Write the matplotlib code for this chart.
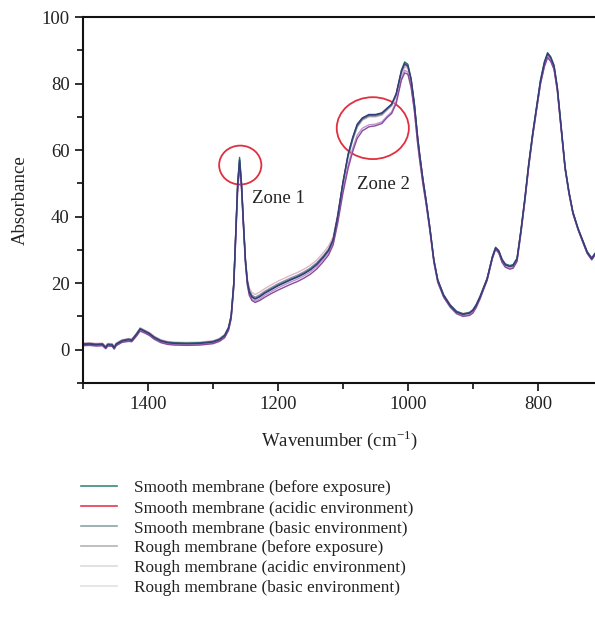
import matplotlib
matplotlib.use("Agg")
import matplotlib.pyplot as plt
from matplotlib.patches import Ellipse
from matplotlib.lines import Line2D
from matplotlib.ticker import MultipleLocator

plt.rcParams['font.family'] = ['Liberation Serif', 'DejaVu Serif']
plt.rcParams['mathtext.fontset'] = 'custom'
plt.rcParams['mathtext.rm'] = 'Liberation Serif'

wavenumber = [
    1500, 1490, 1480, 1470, 1465, 1462, 1455, 1452, 1449, 1440,
    1430, 1425, 1418, 1412, 1405, 1398, 1390, 1380, 1370, 1360,
    1340, 1320, 1300, 1290, 1282, 1276, 1272, 1268, 1265, 1262,
    1259, 1256, 1253, 1250, 1247, 1244, 1240, 1235, 1228, 1220,
    1210, 1200, 1190, 1180, 1170, 1160, 1150, 1140, 1130, 1122,
    1115, 1108, 1100, 1092, 1085, 1078, 1070, 1060, 1050, 1040,
    1032, 1025, 1018, 1010, 1005, 1000, 995, 990, 985, 982,
    977, 972, 966, 960, 954, 945, 935, 925, 915, 905,
    900, 895, 889, 884, 878, 870, 865, 860, 855, 850,
    843, 838, 832, 826, 820, 814, 808, 802, 796, 790,
    785, 780, 775, 770, 764, 758, 752, 746, 738, 731,
    724, 717, 712]

smooth_before = [
    1.8, 1.9, 1.7, 1.8, 0.8, 1.7, 1.6, 0.7, 1.8, 2.8,
    3.2, 3.0, 4.7, 6.4, 5.7, 5.0, 3.8, 2.8, 2.3, 2.1,
    2.0, 2.1, 2.5, 3.2, 4.4, 6.7, 10.2, 20.0, 35.0, 50.0,
    57.8, 50.0, 38.0, 27.0, 20.5, 17.5, 16.0, 15.4, 16.1, 17.2,
    18.3, 19.4, 20.3, 21.2, 22.0, 23.0, 24.2, 25.8, 28.0, 30.0,
    33.0, 40.0, 50.0, 58.5, 63.5, 67.5, 69.5, 70.5, 70.5, 71.0,
    72.5, 73.8, 77.0, 84.0, 86.5, 85.8, 81.5, 74.0, 64.0, 59.0,
    51.5, 45.0, 36.5, 27.0, 21.0, 16.5, 13.5, 11.5, 10.8, 11.2,
    12.0, 13.5, 16.0, 18.5, 21.5, 28.0, 30.8, 29.8, 27.2, 25.8,
    25.3, 25.6, 27.5, 36.0, 45.5, 56.0, 65.0, 73.0, 81.0, 86.5,
    89.3, 88.0, 85.5, 79.0, 67.0, 55.0, 47.5, 41.5, 36.5, 33.0,
    29.5, 27.6, 29.0]

smooth_acidic = [
    1.2, 1.3, 1.1, 1.2, 0.3, 1.1, 1.0, 0.2, 1.2, 2.2,
    2.5, 2.4, 4.0, 5.6, 5.0, 4.3, 3.1, 2.1, 1.6, 1.4,
    1.3, 1.4, 1.8, 2.5, 3.6, 5.8, 9.2, 18.5, 33.0, 47.5,
    55.5, 48.0, 36.5, 25.8, 19.3, 16.3, 14.8, 14.2, 14.8, 15.8,
    16.9, 17.9, 18.8, 19.7, 20.5, 21.5, 22.7, 24.3, 26.5, 28.5,
    31.5, 38.0, 47.0, 54.5, 59.5, 63.5, 65.8, 67.0, 67.3, 68.0,
    69.8, 71.0, 74.0, 81.0, 83.2, 82.8, 78.8, 71.8, 62.0, 57.2,
    50.0, 43.8, 35.5, 26.2, 20.2, 15.8, 12.8, 10.8, 10.0, 10.3,
    11.0, 12.6, 15.2, 17.8, 20.8, 27.3, 30.2, 29.0, 26.2, 24.8,
    24.2, 24.5, 26.5, 35.0, 44.5, 55.0, 64.0, 72.0, 79.8, 85.0,
    87.8, 86.6, 84.2, 77.8, 66.0, 54.2, 46.8, 40.9, 36.0, 32.4,
    28.9, 27.0, 28.4]

smooth_basic = [
    1.6, 1.7, 1.5, 1.6, 0.6, 1.5, 1.4, 0.5, 1.6, 2.6,
    3.0, 2.8, 4.5, 6.2, 5.5, 4.8, 3.6, 2.6, 2.1, 1.9,
    1.8, 1.9, 2.3, 3.0, 4.2, 6.5, 10.0, 19.8, 34.5, 49.5,
    57.0, 49.5, 37.6, 26.8, 20.3, 17.3, 15.8, 15.2, 15.9, 17.0,
    18.1, 19.2, 20.1, 21.0, 21.8, 22.8, 24.0, 25.6, 27.8, 29.8,
    33.0, 40.2, 50.3, 58.8, 63.8, 67.8, 69.7, 70.7, 70.7, 71.2,
    72.6, 73.8, 76.8, 83.7, 86.0, 85.3, 81.2, 73.8, 63.9, 58.9,
    51.4, 44.9, 36.4, 26.9, 20.9, 16.3, 13.3, 11.3, 10.6, 11.0,
    11.8, 13.3, 15.8, 18.3, 21.3, 27.8, 30.6, 29.6, 27.0, 25.5,
    25.0, 25.3, 27.3, 35.8, 45.3, 55.8, 64.8, 72.8, 80.7, 86.2,
    89.0, 87.7, 85.2, 78.8, 66.8, 54.8, 47.3, 41.3, 36.3, 32.8,
    29.3, 27.4, 28.8]

rough_before = [
    1.5, 1.6, 1.4, 1.5, 0.6, 1.4, 1.3, 0.5, 1.5, 2.5,
    2.9, 2.7, 4.4, 6.1, 5.4, 4.7, 3.5, 2.5, 2.0, 1.8,
    1.7, 1.8, 2.2, 2.9, 4.1, 6.4, 9.9, 19.5, 34.5, 49.5,
    57.2, 49.6, 37.8, 27.0, 20.8, 17.9, 16.4, 15.8, 16.5, 17.6,
    18.7, 19.8, 20.7, 21.6, 22.4, 23.4, 24.6, 26.2, 28.3, 30.3,
    33.2, 40.0, 49.8, 58.0, 63.0, 67.0, 69.2, 70.2, 70.2, 70.7,
    72.2, 73.5, 76.6, 83.3, 85.6, 85.0, 80.8, 73.5, 63.6, 58.7,
    51.3, 44.8, 36.3, 26.9, 20.9, 16.4, 13.4, 11.4, 10.7, 11.0,
    11.8, 13.3, 15.8, 18.3, 21.3, 27.7, 30.4, 29.4, 26.9, 25.4,
    24.9, 25.2, 27.1, 35.6, 45.0, 55.4, 64.4, 72.4, 80.3, 85.7,
    88.5, 87.2, 84.8, 78.4, 66.4, 54.5, 47.1, 41.1, 36.2, 32.7,
    29.2, 27.3, 28.7]

rough_acidic = [
    2.0, 2.1, 1.9, 2.0, 1.1, 1.9, 1.8, 1.0, 2.0, 3.0,
    3.4, 3.2, 4.9, 6.6, 5.9, 5.2, 4.0, 3.0, 2.5, 2.3,
    2.2, 2.3, 2.7, 3.4, 4.6, 6.9, 10.4, 20.0, 34.5, 49.0,
    56.5, 49.5, 38.0, 27.5, 21.3, 18.5, 17.2, 16.6, 17.3, 18.4,
    19.5, 20.6, 21.5, 22.4, 23.2, 24.2, 25.4, 27.0, 29.2, 31.2,
    34.0, 40.8, 50.2, 58.3, 63.2, 67.0, 69.0, 70.0, 70.0, 70.5,
    72.0, 73.2, 76.2, 82.7, 85.0, 84.5, 80.4, 73.2, 63.4, 58.5,
    51.2, 44.8, 36.4, 27.0, 21.0, 16.6, 13.6, 11.6, 10.9, 11.3,
    12.0, 13.5, 16.0, 18.5, 21.4, 27.8, 30.5, 29.5, 27.0, 25.6,
    25.1, 25.4, 27.3, 35.6, 44.9, 55.2, 64.2, 72.2, 80.0, 85.3,
    88.1, 86.8, 84.5, 78.2, 66.3, 54.4, 47.0, 41.1, 36.2, 32.7,
    29.2, 27.3, 28.7]

rough_basic = [
    1.3, 1.4, 1.2, 1.3, 0.4, 1.2, 1.1, 0.3, 1.3, 2.3,
    2.7, 2.5, 4.2, 5.9, 5.2, 4.5, 3.3, 2.3, 1.8, 1.6,
    1.5, 1.6, 2.0, 2.7, 3.8, 6.0, 9.5, 19.0, 33.5, 48.5,
    56.0, 48.5, 37.0, 26.2, 19.7, 16.7, 15.2, 14.6, 15.3, 16.4,
    17.5, 18.6, 19.5, 20.4, 21.2, 22.2, 23.4, 25.0, 27.2, 29.2,
    32.2, 38.8, 48.0, 55.5, 60.5, 64.5, 66.6, 67.6, 67.8, 68.5,
    70.2, 71.5, 74.6, 81.5, 84.0, 83.4, 79.4, 72.2, 62.4, 57.6,
    50.4, 44.1, 35.8, 26.5, 20.5, 16.0, 13.0, 11.0, 10.2, 10.6,
    11.3, 12.9, 15.4, 18.0, 21.0, 27.5, 30.4, 29.3, 26.5, 25.0,
    24.4, 24.8, 26.8, 35.2, 44.7, 55.2, 64.2, 72.2, 80.0, 85.4,
    88.3, 87.0, 84.5, 78.0, 66.2, 54.4, 46.9, 41.0, 36.1, 32.5,
    29.0, 27.1, 28.5]

labels = [
    "Smooth membrane (before exposure)",
    "Smooth membrane (acidic environment)",
    "Smooth membrane (basic environment)",
    "Rough membrane (before exposure)",
    "Rough membrane (acidic environment)",
    "Rough membrane (basic environment)",
]
series = [smooth_before, smooth_acidic, smooth_basic,
          rough_before, rough_acidic, rough_basic]
line_colors = ["#2b6f6b", "#8b4a9c", "#363b7a", "#8a90a2", "#e2b4cc", "#bb95d0"]
legend_colors = ["#3a8a80", "#e8384f", "#8aa6a8", "#b4b4b4", "#dcdcdc", "#e2e2e2"]
draw_order = [4, 3, 5, 0, 1, 2]

fig = plt.figure(figsize=(5.95, 6.4), dpi=100)
ax = fig.add_axes([0.1395, 0.4016, 0.8605, 0.5718])

for i in draw_order:
    ax.plot(wavenumber, series[i], color=line_colors[i], lw=1.0)

ax.set_xlim(1500, 712)
ax.set_ylim(-10, 100)
ax.xaxis.set_major_locator(MultipleLocator(200))
ax.xaxis.set_minor_locator(MultipleLocator(100))
ax.yaxis.set_major_locator(MultipleLocator(20))
ax.yaxis.set_minor_locator(MultipleLocator(10))
ax.tick_params(which='both', direction='out', width=1.3, labelsize=13.5, colors='#222222')
ax.tick_params(which='major', length=6)
ax.tick_params(which='minor', length=4)
for s in ['left', 'top', 'bottom']:
    ax.spines[s].set_linewidth(1.5)
    ax.spines[s].set_color('#111111')
ax.spines['right'].set_visible(False)

ax.set_xlabel("Wavenumber (cm$^{-1}$)", fontsize=13.5, color='#222222', labelpad=11)
ax.set_ylabel("Absorbance", fontsize=13.5, color='#222222', labelpad=9)

ax.add_patch(Ellipse((1258, 55.5), 65, 11.7, fill=False, edgecolor='#e0303f', lw=1.3))
ax.add_patch(Ellipse((1054, 66.6), 111, 18.6, fill=False, edgecolor='#e0303f', lw=1.3))
ax.text(1240, 45.6, "Zone 1", fontsize=13.5, va='center', ha='left', color='#222222')
ax.text(1078, 49.8, "Zone 2", fontsize=13.5, va='center', ha='left', color='#222222')

handles = [Line2D([0], [0], color=c, lw=1.2) for c in legend_colors]
fig.legend(handles, labels, loc='upper left', bbox_to_anchor=(0.125, 0.261),
           frameon=False, fontsize=12.4, handlelength=2.1, handletextpad=0.95,
           labelspacing=0.23, borderaxespad=0, labelcolor='#222222')

fig.savefig("out.png", dpi=100)
